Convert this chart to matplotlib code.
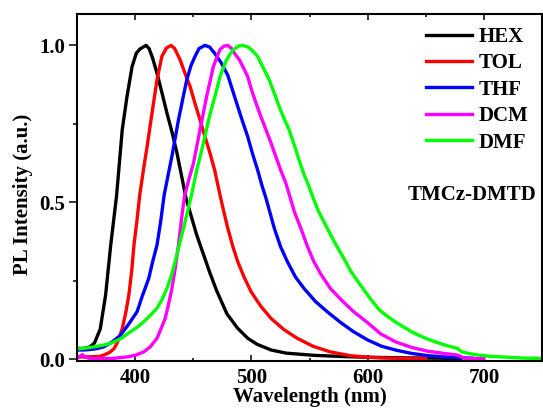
import matplotlib
matplotlib.use("Agg")
import matplotlib.pyplot as plt
from matplotlib.ticker import MultipleLocator
from matplotlib.font_manager import FontProperties

# Normalised PL spectra of TMCz-DMTD in five solvents
hex_wl = [350, 356, 361, 365, 370, 374.6, 379, 384, 388.9, 393, 397.4, 401, 404, 407,
          409.5, 412, 415, 418.8, 423, 427.4, 432, 436, 444, 453, 464, 470, 479, 488,
          497, 505, 517, 530, 554, 580, 600, 630, 660, 680]
hex_pl = [0.035, 0.035, 0.04, 0.052, 0.097, 0.205, 0.364, 0.52, 0.731, 0.837, 0.933, 0.975,
          0.988, 0.995, 1.0, 0.99, 0.96, 0.912, 0.85, 0.784, 0.72, 0.657, 0.51, 0.396, 0.279,
          0.22, 0.145, 0.10, 0.067, 0.048, 0.03, 0.02, 0.013, 0.009, 0.007, 0.005, 0.004, 0.003]

tol_wl = [350, 360, 370, 373, 378, 382, 385.5, 389, 392, 394.6, 397, 399, 401.5, 404, 407,
          410.3, 414.5, 418.8, 423, 427, 431, 434, 438.7, 443, 447.3, 451.5, 455.8, 460,
          464.4, 468.4, 473, 476, 479.7, 484, 488.3, 494, 499.7, 508, 516.8, 528, 539.6,
          553, 568, 585, 600, 611, 630, 650]
tol_pl = [0.008, 0.008, 0.01, 0.014, 0.022, 0.035, 0.06, 0.099, 0.15, 0.205, 0.28, 0.364,
          0.44, 0.524, 0.6, 0.678, 0.784, 0.89, 0.965, 0.992, 1.0, 0.99, 0.954, 0.91, 0.869,
          0.815, 0.763, 0.71, 0.657, 0.603, 0.524, 0.475, 0.418, 0.36, 0.311, 0.26, 0.216,
          0.17, 0.131, 0.095, 0.067, 0.042, 0.024, 0.012, 0.007, 0.005, 0.003, 0.003]

thf_wl = [350, 356, 365, 373, 380, 387.4, 394, 401.7, 406, 411.7, 415, 418.8, 422, 425,
          428, 431.6, 437.3, 441, 444.4, 448, 451.5, 455, 460, 464, 468.4, 474, 479.7,
          484, 488.3, 492.5, 496.8, 501, 505.4, 509, 512.6, 519.7, 525, 531, 538, 545.3,
          555, 565.2, 577, 588, 600, 612, 625, 638, 652, 666, 678, 690]
thf_pl = [0.03, 0.03, 0.033, 0.04, 0.055, 0.077, 0.11, 0.152, 0.2, 0.258, 0.31, 0.364,
          0.44, 0.524, 0.58, 0.646, 0.763, 0.83, 0.89, 0.935, 0.965, 0.99, 1.0, 0.995, 0.975,
          0.945, 0.905, 0.855, 0.805, 0.757, 0.71, 0.655, 0.603, 0.555, 0.513, 0.418, 0.36,
          0.311, 0.262, 0.226, 0.185, 0.152, 0.117, 0.088, 0.062, 0.042, 0.029, 0.019,
          0.012, 0.008, 0.006, 0.004]

dcm_wl = [350, 352.5, 354.7, 357, 360, 365, 380, 393, 400, 407.4, 413, 418.8, 422, 425.9,
          429, 431.6, 434.5, 437.3, 440, 442.5, 446, 450.2, 455.8, 461.5, 467.3, 472.9,
          476, 479.5, 483, 486, 489.7, 493, 496.8, 500, 504, 508, 512.6, 516.8, 521,
          525.5, 529.7, 533, 537, 542.5, 548, 553.8, 560, 568, 578, 588, 600, 611, 624,
          638, 652, 666, 677, 680, 683, 690, 700]
dcm_pl = [0.003, 0.01, 0.015, 0.008, 0.004, 0.003, 0.003, 0.008, 0.013, 0.024, 0.04, 0.067,
          0.095, 0.131, 0.18, 0.226, 0.29, 0.364, 0.45, 0.52, 0.57, 0.625, 0.731, 0.837,
          0.933, 0.986, 0.997, 1.0, 0.99, 0.972, 0.954, 0.93, 0.901, 0.86, 0.816, 0.775,
          0.731, 0.69, 0.646, 0.6, 0.561, 0.52, 0.47, 0.418, 0.362, 0.311, 0.27, 0.226,
          0.187, 0.152, 0.117, 0.082, 0.056, 0.038, 0.026, 0.019, 0.014, 0.01, 0.004,
          0.003, 0.003]

dmf_wl = [350, 357, 364.7, 372, 378.9, 387, 396, 402, 407.4, 413, 418.8, 423, 427.4, 431,
          434.4, 438, 441.6, 445, 448.5, 453, 456.5, 460, 464, 468.6, 473, 478.6, 484, 489,
          492.5, 497, 501, 505.4, 510, 515.4, 520, 523.9, 528, 532.5, 537, 541, 545, 549.6,
          553.8, 558, 565.2, 572, 579.5, 586, 593.8, 602, 610, 617, 623.7, 631, 637.9, 645,
          652.1, 659, 666.4, 672, 677.5, 679, 681, 687, 695, 705, 715, 725, 737, 750]
dmf_pl = [0.033, 0.036, 0.04, 0.045, 0.051, 0.065, 0.088, 0.103, 0.12, 0.14, 0.163, 0.19,
          0.226, 0.265, 0.311, 0.365, 0.418, 0.47, 0.524, 0.603, 0.655, 0.71, 0.775, 0.837,
          0.9, 0.954, 0.985, 0.998, 1.0, 0.995, 0.983, 0.965, 0.93, 0.89, 0.845, 0.805,
          0.768, 0.731, 0.682, 0.635, 0.592, 0.55, 0.508, 0.47, 0.418, 0.37, 0.322, 0.278,
          0.237, 0.195, 0.158, 0.137, 0.12, 0.103, 0.088, 0.075, 0.064, 0.055, 0.046, 0.04,
          0.035, 0.03, 0.024, 0.019, 0.014, 0.01, 0.008, 0.006, 0.004, 0.003]

solvents = ["HEX", "TOL", "THF", "DCM", "DMF"]
colors = ["#000000", "#ff0000", "#0000ff", "#ff00ff", "#00ff00"]
series = [(hex_wl, hex_pl), (tol_wl, tol_pl), (thf_wl, thf_pl),
          (dcm_wl, dcm_pl), (dmf_wl, dmf_pl)]

font = FontProperties(family="Liberation Serif", weight="bold", size=15)

fig = plt.figure(figsize=(5.43, 4.15), dpi=100)
ax = fig.add_axes([77 / 543, 1 - 361 / 415, 465 / 543, 347 / 415])

for (wl, pl), name, c in zip(series, solvents, colors):
    ax.plot(wl, pl, color=c, lw=2.4, label=name, solid_joinstyle="round")

ax.set_xlim(350, 750)
ax.set_ylim(-0.005, 1.10)

ax.xaxis.set_major_locator(MultipleLocator(100))
ax.xaxis.set_minor_locator(MultipleLocator(50))
ax.yaxis.set_major_locator(MultipleLocator(0.5))
ax.yaxis.set_minor_locator(MultipleLocator(0.25))
ax.set_yticks([0.0, 0.5, 1.0])
ax.set_yticklabels(["0.0", "0.5", "1.0"])
ax.set_xticks([400, 500, 600, 700])
ax.set_xticklabels(["400", "500", "600", "700"])

ax.tick_params(axis="x", which="both", direction="in", top=True, bottom=True, width=1.1)
ax.tick_params(axis="x", which="major", length=4, pad=5)
ax.tick_params(axis="x", which="minor", length=2.2)
ax.tick_params(axis="y", which="both", direction="out", left=True, right=False, width=1.1)
ax.tick_params(axis="y", which="major", length=5.5, pad=3)
ax.tick_params(axis="y", which="minor", length=3)
for lab in ax.get_xticklabels() + ax.get_yticklabels():
    lab.set_fontproperties(font)

for sp in ax.spines.values():
    sp.set_linewidth(1.5)

ax.set_xlabel("Wavelength (nm)", fontproperties=font)
ax.set_ylabel("PL Intensity (a.u.)", fontproperties=font)
ax.xaxis.set_label_coords(0.5, -0.075)
ax.yaxis.set_label_coords(-0.095, 0.48)

leg = ax.legend(loc="upper left", bbox_to_anchor=(0.75, 0.963), frameon=False,
                prop=font, handlelength=2.2, handletextpad=0.35, labelspacing=0.31,
                borderaxespad=0, borderpad=0)

ax.text(0.711, 0.478, "TMCz-DMTD", transform=ax.transAxes, fontproperties=font,
        ha="left", va="center")

fig.savefig("out.png", dpi=100)
